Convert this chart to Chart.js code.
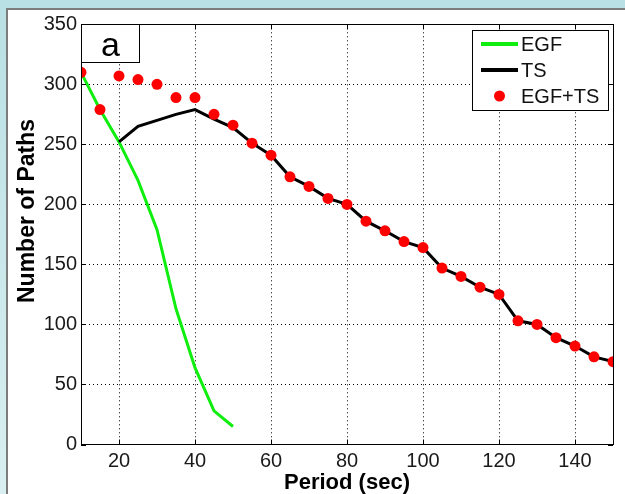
<!DOCTYPE html>
<html>
<head>
<meta charset="utf-8">
<script src="https://cdn.jsdelivr.net/npm/chart.js@4.4.1/dist/chart.umd.min.js"></script>
<style>
  html, body { margin: 0; padding: 0; }
  body { width: 625px; height: 494px; position: relative; overflow: hidden; background: #b9e0e4; }
  .side { position: absolute; left: 0; top: 0; width: 6px; height: 494px; background: linear-gradient(#b9e0e4, #d9eff1); }
  .panel { position: absolute; left: 6px; top: 8px; right: -4px; bottom: -4px; background: #fff; border-left: 2px solid #7c7c7c; border-top: 2px solid #7c7c7c; }
  #chart { position: absolute; left: 0; top: 0; }
</style>
</head>
<body>
<div class="side"></div>
<div class="panel"></div>
<canvas id="chart" width="625" height="494"></canvas>
<script>
// periods (sec) for each series
const egfPeriods = [10, 15, 20, 25, 30, 35, 40, 45, 50];
const tsPeriods = [20, 25, 30, 35, 40, 45, 50, 55, 60, 65, 70, 75, 80, 85, 90, 95, 100,
  105, 110, 115, 120, 125, 130, 135, 140, 145, 150];
const allPeriods = [10, 15, 20, 25, 30, 35, 40, 45, 50, 55, 60, 65, 70, 75, 80, 85, 90, 95, 100,
  105, 110, 115, 120, 125, 130, 135, 140, 145, 150];

// number of paths
const egfPaths = [310, 279, 252, 220, 179, 113, 64, 28, 15];
const tsPaths = [252, 265, 270, 275, 279, 271, 264, 251, 241, 223, 215, 205, 200, 186, 178,
  169, 164, 147, 140, 131, 125, 103, 100, 89, 82, 73, 69];
const combinedPaths = [310, 279, 307, 304, 300, 289, 289, 275, 266, 251, 241, 223, 215, 205, 200,
  186, 178, 169, 164, 147, 140, 131, 125, 103, 100, 89, 82, 73, 69];

const xTicks = [20, 40, 60, 80, 100, 120, 140];
const yTicks = [0, 50, 100, 150, 200, 250, 300, 350];
const seriesNames = ['EGF', 'TS', 'EGF+TS'];
const panelLabel = 'a';
const yTitle = 'Number of Paths';

const toPoints = (xs, ys) => xs.map((x, i) => ({ x: x, y: ys[i] }));
const FONT = '"Liberation Sans", Arial, Helvetica, sans-serif';

// box around the axes, inward tick marks, y title, panel tag and legend
const matlabAxes = {
  id: 'matlabAxes',
  afterDatasetsDraw(chart) {
    const { ctx, chartArea: a, scales } = chart;
    const xs = scales.x, ys = scales.y;
    ctx.save();
    ctx.strokeStyle = '#000';
    ctx.lineWidth = 1;
    ctx.strokeRect(Math.round(a.left) + 0.5, Math.round(a.top) + 0.5,
      Math.round(a.right - a.left), Math.round(a.bottom - a.top));

    const tl = 5;
    ctx.beginPath();
    xTicks.forEach(v => {
      const px = Math.round(xs.getPixelForValue(v)) + 0.5;
      ctx.moveTo(px, a.bottom); ctx.lineTo(px, a.bottom - tl);
      ctx.moveTo(px, a.top); ctx.lineTo(px, a.top + tl);
    });
    yTicks.forEach(v => {
      const py = Math.round(ys.getPixelForValue(v)) + 0.5;
      ctx.moveTo(a.left, py); ctx.lineTo(a.left + tl, py);
      ctx.moveTo(a.right, py); ctx.lineTo(a.right - tl, py);
    });
    ctx.stroke();

    // y axis title, sits a little above the middle of the axis
    ctx.save();
    ctx.translate(28, 211);
    ctx.rotate(-Math.PI / 2);
    ctx.fillStyle = '#000';
    ctx.font = 'bold 23px ' + FONT;
    ctx.textAlign = 'center';
    ctx.textBaseline = 'middle';
    ctx.fillText(yTitle, 0, 0);
    ctx.restore();

    // panel tag
    const bx = Math.round(a.left) + 0.5, by = Math.round(a.top) + 0.5;
    ctx.fillStyle = '#fff';
    ctx.fillRect(bx, by, 58, 38);
    ctx.strokeRect(bx, by, 58, 38);
    ctx.fillStyle = '#000';
    ctx.font = '34px ' + FONT;
    ctx.textAlign = 'center';
    ctx.textBaseline = 'alphabetic';
    ctx.fillText(panelLabel, bx + 29, by + 31);

    // legend
    const lx = 472.5, ly = 30.5, lw = 136, lh = 80;
    ctx.fillStyle = '#fff';
    ctx.fillRect(lx, ly, lw, lh);
    ctx.strokeRect(lx, ly, lw, lh);
    ctx.font = '20px ' + FONT;
    ctx.textAlign = 'left';
    ctx.textBaseline = 'middle';
    const rows = [44, 70, 96];
    chart.data.datasets.forEach((ds, i) => {
      const ry = rows[i];
      if (ds.showLine === false) {
        ctx.fillStyle = ds.pointBackgroundColor;
        ctx.beginPath();
        ctx.arc(499.5, ry, ds.pointRadius, 0, Math.PI * 2);
        ctx.fill();
      } else {
        ctx.strokeStyle = ds.borderColor;
        ctx.lineWidth = 4;
        ctx.beginPath();
        ctx.moveTo(481, ry); ctx.lineTo(518, ry);
        ctx.stroke();
      }
      ctx.fillStyle = '#111';
      ctx.fillText(ds.label, 521, ry + 1);
    });
    ctx.restore();
  }
};

new Chart(document.getElementById('chart'), {
  type: 'line',
  data: {
    datasets: [
      {
        label: seriesNames[0],
        data: toPoints(egfPeriods, egfPaths),
        borderColor: '#10ee10',
        borderWidth: 3,
        pointRadius: 0,
        order: 3
      },
      {
        label: seriesNames[1],
        data: toPoints(tsPeriods, tsPaths),
        borderColor: '#000',
        borderWidth: 3,
        pointRadius: 0,
        order: 2
      },
      {
        label: seriesNames[2],
        data: toPoints(allPeriods, combinedPaths),
        showLine: false,
        pointRadius: 5.5,
        pointBackgroundColor: '#ff0000',
        pointBorderWidth: 0,
        order: 1
      }
    ]
  },
  options: {
    responsive: false,
    animation: false,
    layout: { padding: { top: 24.3, right: 12, left: 0, bottom: 0 } },
    plugins: { legend: { display: false }, tooltip: { enabled: false } },
    scales: {
      x: {
        type: 'linear',
        min: 10,
        max: 150,
        afterBuildTicks: s => { s.ticks = xTicks.map(v => ({ value: v })); },
        afterFit: s => { s.height = 49.5; },
        grid: { color: '#000', lineWidth: 1, drawTicks: false },
        border: { display: false, dash: [1, 3] },
        ticks: { padding: 5, color: '#1a1a1a', font: { family: FONT, size: 20 }, maxRotation: 0 },
        title: {
          display: true,
          text: 'Period (sec)',
          color: '#000',
          padding: { top: 0, bottom: 0 },
          font: { family: FONT, size: 22, weight: 'bold', lineHeight: 1 }
        }
      },
      y: {
        min: 0,
        max: 350,
        afterBuildTicks: s => { s.ticks = yTicks.map(v => ({ value: v })); },
        afterFit: s => { s.width = 81; },
        grid: { color: '#000', lineWidth: 1, drawTicks: false },
        border: { display: false, dash: [1, 3] },
        ticks: { padding: 4, color: '#1a1a1a', font: { family: FONT, size: 20 } },
        title: { display: false }
      }
    }
  },
  plugins: [matlabAxes]
});
</script>
</body>
</html>
